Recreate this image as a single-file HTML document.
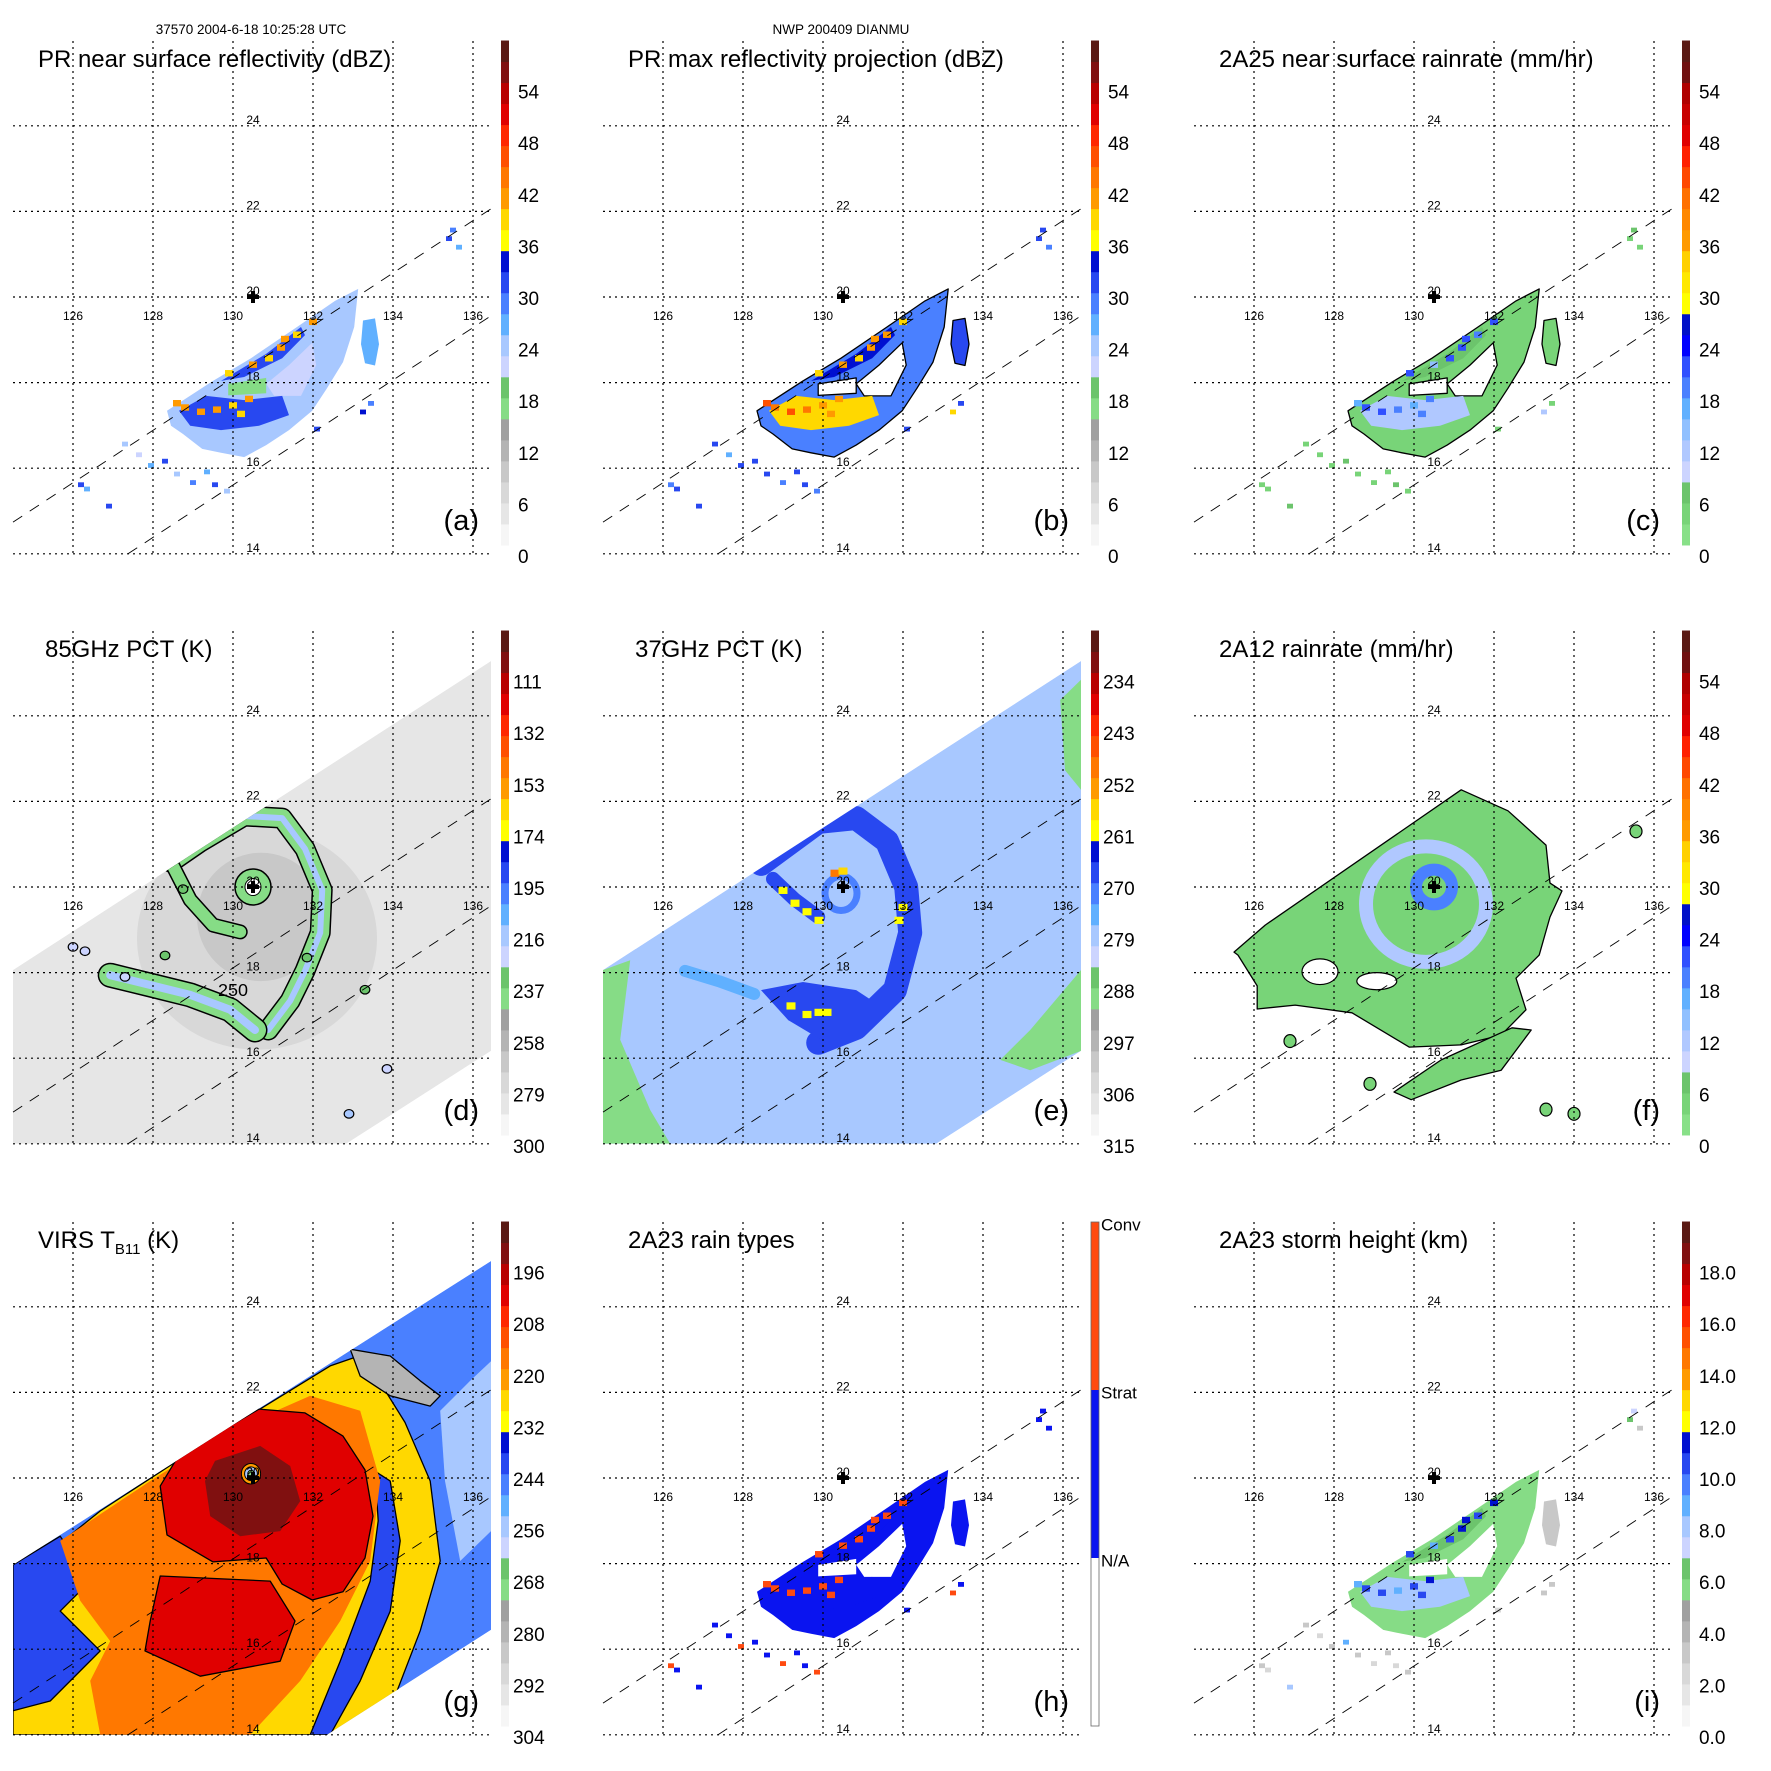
<!DOCTYPE html>
<html><head><meta charset="utf-8"><style>
html,body{margin:0;padding:0;background:#fff;}
#root{position:relative;width:1771px;height:1771px;overflow:hidden;background:#fff;font-family:"Liberation Sans",sans-serif;}
svg{position:absolute;overflow:hidden;}
text{font-family:"Liberation Sans",sans-serif;}
</style></head>
<body>
<div id="root"></div>
<script>
// ---------- shared data ----------
const lonTicks=[126,128,130,132,134,136];
const latTicks=[14,16,18,20,22,24];
const stormLon=130.5, stormLat=20.0;
const prEdge1Lon=[124.5,136.45], prEdge1Lat=[14.74,22.06];
const prEdge2Lon=[127.375,136.45], prEdge2Lat=[14.0,19.56];
const panelKeys=['a','b','c','d','e','f','g','h','i'];
const panelTitles=['PR near surface reflectivity (dBZ)','PR max reflectivity projection (dBZ)','2A25 near surface rainrate (mm/hr)','85GHz PCT (K)','37GHz PCT (K)','2A12 rainrate (mm/hr)','VIRS T','2A23 rain types','2A23 storm height (km)'];
const headerA='37570 2004-6-18 10:25:28 UTC';
const headerB='NWP 200409 DIANMU';
const ticksDbz=['0','6','12','18','24','30','36','42','48','54'];
const ticksD=['300','279','258','237','216','195','174','153','132','111'];
const ticksE=['315','306','297','288','279','270','261','252','243','234'];
const ticksG=['304','292','280','268','256','244','232','220','208','196'];
const ticksI=['0.0','2.0','4.0','6.0','8.0','10.0','12.0','14.0','16.0','18.0'];
const typeLabels=['N/A','Strat','Conv'];
const stdColors=['#f6f6f6','#e6e6e6','#d8d8d8','#c8c8c8','#b4b4b4','#a0a0a0','#86dc86','#6cc46c','#ccd4ff','#a8c8ff','#60b0ff','#4a80ff','#2848f0','#0010d0','#ffff00','#ffd800','#ff9a00','#ff7800','#ff5000','#ff2800','#e00000','#b80000','#801010','#5a1a14'];
const rainColors=['#88e088','#78d478','#6cc46c','#ccd4ff','#b0c8ff','#90c0ff','#60b0ff','#4a80ff','#3050ff','#0000ff','#0010c8','#ffff00','#ffe800','#ffd000','#ff9a00','#ff8800','#ff7000','#ff4800','#ff2000','#e00000','#c80000','#b00000','#701010','#5a1a14'];
const typeColors=['#ffffff','#0a14f0','#ff4a10'];

// ---------- PR swath regions (a,b,c,h,i) ----------
const prOuterLon=[128.35,129.5,130.45,131.6,132.55,133.13,133.03,132.75,132.35,131.98,131.4,130.83,130.28,129.7,129.23,128.75,128.45];
const prOuterLat=[17.34,18.04,18.57,19.3,19.91,20.19,19.3,18.48,17.87,17.34,16.89,16.54,16.26,16.36,16.45,16.8,16.99];
const prGapLon=[129.88,130.83,130.83,129.88];
const prGapLat=[17.97,18.11,17.75,17.7];
const prHoleLon=[130.83,131.4,131.98,132.08,131.7,131.03];
const prHoleLat=[17.97,18.41,18.93,18.41,17.69,17.69];
const prLowerLon=[128.65,129.33,130.28,131.23,131.4,130.65,129.7,128.93];
const prLowerLat=[17.34,17.69,17.59,17.69,17.24,16.99,16.89,16.99];
const prUpperLon=[129.7,130.83,131.7,131.8,131.23,130.28];
const prUpperLat=[18.04,18.67,19.3,19.11,18.57,18.13];
const prEastLon=[133.25,133.55,133.65,133.55,133.3,133.2];
const prEastLat=[19.45,19.5,18.9,18.4,18.45,18.9];
// order: outer, gap, hole, lower, upper, east
const aRegionVals=[23,17,20,31,30,27];
const bRegionVals=[28,null,null,39,33,30];
const cRegionVals=[4,null,null,10,6,4];
const hRegionVals=[1,null,null,1,1,1];
const iRegionVals=[5.5,null,null,7.5,6,3.3];
const speckLon=[126.2,126.35,126.9,127.3,127.65,127.95,128.3,128.6,129.0,129.35,129.55,129.85,135.4,135.5,135.65,133.25,133.45,132.1];
const speckLat=[15.6,15.5,15.1,16.55,16.3,16.05,16.15,15.85,15.65,15.9,15.6,15.45,21.35,21.55,21.15,17.3,17.5,16.9];
const aSpeckVals=[30,26,30,24,22,26,31,24,29,26,31,24,31,29,26,33,29,30];
const bSpeckVals=[28,30,30,30,26,30,31,30,29,30,31,28,31,30,29,38,30,30];
const cSpeckVals=[4,4,5,4,4,4,5,4,4,4,5,4,4,5,4,10,4,4];
const hSpeckVals=[2,1,1,1,1,2,1,1,2,1,1,2,1,1,1,2,1,1];
const iSpeckVals=[3,2,8,3,2,3,9,3,2,3,2,3,6,7,3,3,3,2];
const spotLon=[128.8,129.2,129.6,130.0,130.4,129.9,130.5,131.2,131.6,132.0,128.6,130.2,130.9,131.3];
const spotLat=[17.4,17.3,17.35,17.45,17.6,18.2,18.4,18.8,19.1,19.4,17.5,17.25,18.55,19.0];
const aSpotVals=[40,41,40,39,40,38,40,41,39,40,42,38,39,40];
const bSpotVals=[44,45,43,42,40,38,40,42,40,38,45,42,38,40];
const cSpotVals=[20,22,18,15,18,20,14,22,18,20,15,18,20,22];
const hSpotVals=[2,2,2,2,2,2,2,2,2,2,2,2,2,2];
const iSpotVals=[10,10,9,10,11,10,9,11,10,11,9,10,10,11];

// ---------- TMI swath (d,e) ----------
const tmiSwathLon=[124.5,136.45,136.45,132.83,124.5];
const tmiSwathLat=[18.06,25.28,16.17,14.0,14.0];
const dBaseVal=290;
const dEllLon=[130.6,130.7], dEllLat=[18.8,19.3], dEllRx=[3.0,1.6], dEllRy=[2.6,1.5], dEllVal=[275,266];
const dBand1Lon=[128.45,129.18,130.28,131.23,131.8,132.23,132.18,131.8,131.43,130.88];
const dBand1Lat=[20.58,21.05,21.66,21.61,20.89,19.93,18.93,18.04,17.34,16.66];
const dBand2Lon=[128.45,128.93,129.5,130.18];
const dBand2Lat=[20.58,19.7,19.11,18.95];
const dBand3Lon=[126.93,127.93,128.93,129.93,130.55];
const dBand3Lat=[17.94,17.71,17.48,17.13,16.66];
const dBandVal=240, dCoreVal=215;
const dBlobLon=[126.0,126.3,127.3,128.3,132.9,128.75,131.85,133.85,133.3];
const dBlobLat=[18.6,18.5,17.9,18.4,14.7,19.95,18.35,15.75,17.6];
const dBlobVal=[225,222,230,235,220,238,236,230,238];
const dLabelLon=[130.0], dLabelLat=[17.45], dLabelText=['250'];

const eBaseVal=281;
const eGreen1Lon=[124.5,125.18,124.93,125.68,126.18,124.5];
const eGreen1Lat=[18.06,18.29,16.43,14.79,14.0,14.0];
const eGreen2Lon=[136.45,136.45,135.18,134.43,135.18];
const eGreen2Lat=[18.06,16.17,15.72,15.96,16.66];
const eGreen3Lon=[135.93,136.45,136.45,136.05];
const eGreen3Lat=[24.37,24.84,22.27,22.73];
const eGreenVal=289;
const eBandLon=[128.45,129.88,130.83,131.6,132.08,132.18,131.8,130.83,129.88];
const eBandLat=[20.54,21.52,21.61,21.07,20.0,18.93,17.59,16.71,16.36];
const eBandVal=269;
const eArmLon=[128.75,129.3,129.88], eArmLat=[20.19,19.7,19.3], eArmVal=270;
const eArm2Lon=[126.55,127.4,128.28], eArm2Lat=[18.04,17.8,17.5], eArm2Val=274;
const eBlobLon=[128.45,129.5,130.83,131.4,131.03,130.08,129.13];
const eBlobLat=[17.59,17.78,17.59,17.24,16.61,16.36,16.89];
const eBlobVal=267;
const eRingLon=130.45, eRingLat=19.85, eRingR=0.4, eRingVal=272;
const eSpotLon=[129.0,129.3,129.6,129.9,132.0,131.9,129.2,129.6,129.9,130.1,130.3,130.5];
const eSpotLat=[19.9,19.6,19.4,19.2,19.5,19.2,17.2,17.0,17.05,17.05,20.3,20.35];
const eSpotVal=[261,261,261,261,261,261,261,261,261,261,250,258];

// ---------- 2A12 (f) ----------
const fMainLon=[125.5,126.28,131.18,132.35,133.3,133.4,133.7,133.4,133.13,132.55,132.8,132.18,131.18,129.88,128.45,127.03,126.08,126.08,125.6];
const fMainLat=[18.48,19.11,22.27,21.78,20.98,20.09,19.91,19.3,18.41,17.87,17.13,16.54,16.31,16.26,17.06,17.24,17.15,17.69,18.41];
const fCresLon=[129.5,130.68,132.45,132.93,132.18,131.18,129.93];
const fCresLat=[15.21,15.96,16.71,16.66,15.72,15.49,15.03];
const fMainVal=3, fCresVal=3;
const fHoleLon=[127.65,129.07], fHoleLat=[18.02,17.8], fHoleRx=[0.45,0.5], fHoleRy=[0.3,0.2];
const fRingLon=[130.5,130.3], fRingLat=[20.0,19.6], fRingR=[0.45,1.5], fRingVal=[18,10];
const fBlobLon=[135.55,133.3,126.9,128.9,134.0], fBlobLat=[21.3,14.8,16.4,15.4,14.7], fBlobVal=[3,3,3,3,3];

// ---------- VIRS (g) ----------
const gSwathLon=[124.5,136.45,136.45,132.35,124.5];
const gSwathLat=[17.97,25.07,16.45,14.0,14.0];
const gBaseVal=246;
const gYellowLon=[124.5,126.68,129.18,132.43,133.3,133.7,134.3,134.93,135.18,134.68,133.68,124.5];
const gYellowLat=[17.59,19.23,20.75,22.62,22.9,22.2,21.3,19.93,18.06,16.43,14.0,14.0];
const gYellowVal=229;
const gBlueSwLon=[124.5,125.68,126.43,125.68,126.68,125.43,124.5];
const gBlueSwLat=[17.97,18.64,17.59,16.89,15.96,14.79,14.56];
const gBlueEwLon=[133.55,133.93,134.18,133.93,133.18,132.43,131.93,132.68,133.43,133.63];
const gBlueEwLat=[20.16,19.93,18.53,16.89,15.26,14.0,14.0,15.72,17.59,19.0];
const gBlueVal=242;
const gOrangeLon=[125.68,127.93,129.93,131.93,133.18,133.68,133.43,132.68,131.68,130.43,126.68,126.43,126.93,126.18];
const gOrangeLat=[18.53,19.93,21.1,21.92,21.57,19.93,18.06,16.66,15.26,14.0,14.0,15.26,16.19,17.13];
const gOrangeVal=218;
const gRedLon=[128.65,129.33,130.65,131.8,132.75,133.3,133.5,133.3,132.75,131.98,131.23,130.83,129.5,128.35,128.18];
const gRedLat=[20.54,20.89,21.61,21.52,20.98,20.19,19.11,18.13,17.34,17.15,17.52,18.13,18.04,18.67,19.81];
const gRed2Lon=[128.18,130.93,131.55,131.18,129.18,127.8,127.93];
const gRed2Lat=[17.71,17.59,16.66,15.72,15.37,15.96,16.66];
const gRedVal=204;
const gDarkLon=[129.55,130.68,131.43,131.68,131.18,130.18,129.43,129.3];
const gDarkLat=[20.4,20.75,20.28,19.46,18.76,18.64,19.11,19.93];
const gDarkVal=192;
const gGrayLon=[132.93,133.93,134.68,135.18,134.93,133.93,133.18];
const gGrayLat=[23.01,22.85,22.27,21.92,21.68,21.92,22.38];
const gGrayVal=282;
const gLightLon=[135.18,135.93,136.45,136.45,135.68,135.3];
const gLightLat=[21.57,22.27,22.73,18.76,18.06,19.93];
const gLightVal=258;
const gEyeR=[0.24,0.16,0.08], gEyeVal=[222,256,270];

// ---------- helpers ----------
const NS='http://www.w3.org/2000/svg';
const P=590.33;
function lonX(l){return 73+(l-126)*40;}
function latY(p){return 297-(p-20)*42.8;}
function pts(lons,lats){return lons.map((l,i)=>lonX(l).toFixed(1)+','+latY(lats[i]).toFixed(1)).join(' ');}
function mk(tag,parent){const e=document.createElementNS(NS,tag);parent.appendChild(e);return e;}
function colorFor(map,u){let k=Math.floor(u/2.5);if(k<0)k=0;if(k>23)k=23;return map[k];}
const uConv={a:v=>v,b:v=>v,c:v=>v,f:v=>v,d:v=>(300-v)/3.5,e:v=>(315-v)/1.5,g:v=>(304-v)/2,i:v=>v*3};
function col(key,v){if(key==='h')return typeColors[v];const map=(key==='c'||key==='f')?rainColors:stdColors;return colorFor(map,uConv[key](v));}

function poly(g,lons,lats,fill,stroke,name){
  const p=mk('polygon',g);
  p.setAttribute('points',pts(lons,lats));
  p.setAttribute('fill',fill);
  if(stroke){p.setAttribute('stroke',stroke);p.setAttribute('stroke-width','1.3');p.setAttribute('stroke-linejoin','round');}
  
  
  return p;
}
function band(g,lons,lats,color,w,outline,name){
  if(outline){
    const o=mk('polyline',g);
    o.setAttribute('points',pts(lons,lats));
    o.setAttribute('fill','none');o.setAttribute('stroke','#000');o.setAttribute('stroke-width',w+3);
    o.setAttribute('stroke-linejoin','round');o.setAttribute('stroke-linecap','round');
    
    
  }
  const l=mk('polyline',g);
  l.setAttribute('points',pts(lons,lats));
  l.setAttribute('fill','none');l.setAttribute('stroke',color);l.setAttribute('stroke-width',w);
  l.setAttribute('stroke-linejoin','round');l.setAttribute('stroke-linecap','round');
  
  
}
function ell(g,lon,lat,rx,ry,fill,stroke,sw,name){
  const e=mk('ellipse',g);
  e.setAttribute('cx',lonX(lon));e.setAttribute('cy',latY(lat));
  e.setAttribute('rx',rx*40);e.setAttribute('ry',ry*42.8);
  e.setAttribute('fill',fill);
  if(stroke){e.setAttribute('stroke',stroke);e.setAttribute('stroke-width',sw);}
  
  
}
function dots(g,lons,lats,vals,key,size,name){
  lons.forEach((l,i)=>{
    const r=mk('rect',g);
    r.setAttribute('x',lonX(l)-size/2);r.setAttribute('y',latY(lats[i])-size/2);
    r.setAttribute('width',size);r.setAttribute('height',size*0.8);
    r.setAttribute('fill',col(key,vals[i]));
    
    
  });
}

const root=document.getElementById('root');
const panels={};
panelKeys.forEach((k,i)=>{
  const svg=document.createElementNS(NS,'svg');
  root.appendChild(svg);
  svg.setAttribute('width',P);svg.setAttribute('height',P);
  svg.setAttribute('viewBox','0 0 '+P+' '+P);
  svg.style.left=((i%3)*P)+'px';svg.style.top=(Math.floor(i/3)*P)+'px';
  
  
  const defs=mk('defs',svg);
  const cp=mk('clipPath',defs);cp.setAttribute('id','frame-'+k);
  const cr=mk('rect',cp);cr.setAttribute('x',13);cr.setAttribute('y',41);cr.setAttribute('width',478);cr.setAttribute('height',513);
  const field=mk('g',svg);field.setAttribute('clip-path','url(#frame-'+k+')');
  
  
  const over=mk('g',svg);
  panels[k]={svg,field,over,defs};
});

function swathClip(k,lons,lats){
  const cp=mk('clipPath',panels[k].defs);cp.setAttribute('id','swath-'+k);
  const p=mk('polygon',cp);p.setAttribute('points',pts(lons,lats));
  const g=mk('g',panels[k].field);g.setAttribute('clip-path','url(#swath-'+k+')');
  
  
  return g;
}

// ---------- PR-based panels ----------
function prPanel(k,vals,speckVals,spotVals,outline){
  const g=panels[k].field;
  const s=outline?'#000':null;
  const regs=[[prOuterLon,prOuterLat],[prGapLon,prGapLat],[prHoleLon,prHoleLat],[prLowerLon,prLowerLat],[prUpperLon,prUpperLat],[prEastLon,prEastLat]];
  const names=['rain-region','band-gap','rain-hole','lower-rainband','upper-rainband','east-rainband'];
  regs.forEach((r,i)=>{
    const v=vals[i];
    const fill=(v===null)?'#ffffff':col(k,v);
    poly(g,r[0],r[1],fill,(i===0||i===2||i===5||(i===1&&v===null))?s:null,names[i]);
  });
  dots(g,speckLon,speckLat,speckVals,k,6,'rain-speck');
  dots(g,spotLon,spotLat,spotVals,k,8,'intense-spot');
}
prPanel('a',aRegionVals,aSpeckVals,aSpotVals,false);
prPanel('b',bRegionVals,bSpeckVals,bSpotVals,true);
prPanel('c',cRegionVals,cSpeckVals,cSpotVals,true);
prPanel('h',hRegionVals,hSpeckVals,hSpotVals,false);
prPanel('i',iRegionVals,iSpeckVals,iSpotVals,false);

// ---------- d ----------
(function(){
  const g=swathClip('d',tmiSwathLon,tmiSwathLat);
  poly(g,tmiSwathLon,tmiSwathLat,col('d',dBaseVal),null,'swath-background');
  dEllLon.forEach((l,i)=>ell(g,l,dEllLat[i],dEllRx[i],dEllRy[i],col('d',dEllVal[i]),null,0,'cold-ring'));
  band(g,dBand1Lon,dBand1Lat,col('d',dBandVal),18,true,'outer-spiral-band');
  band(g,dBand1Lon,dBand1Lat,col('d',dCoreVal),6,false,'outer-spiral-core');
  band(g,dBand2Lon,dBand2Lat,col('d',dBandVal),12,true,'inner-spiral-band');
  band(g,dBand3Lon,dBand3Lat,col('d',dBandVal),22,true,'southern-band');
  band(g,dBand3Lon,dBand3Lat,col('d',dCoreVal),8,false,'southern-band-core');
  ell(g,stormLon,stormLat,0.45,0.42,col('d',dBandVal),'#000',1.5,'eyewall');
  ell(g,stormLon,stormLat,0.2,0.2,'#ffffff','#000',1,'eye');
  dBlobLon.forEach((l,i)=>ell(g,l,dBlobLat[i],0.12,0.1,col('d',dBlobVal[i]),'#000',1.2,'cold-cell'));
  dLabelLon.forEach((l,i)=>{const t=mk('text',g);t.setAttribute('x',lonX(l));t.setAttribute('y',latY(dLabelLat[i]));t.setAttribute('font-size','18');t.setAttribute('text-anchor','middle');t.textContent=dLabelText[i];
    
    });
})();

// ---------- e ----------
(function(){
  const g=swathClip('e',tmiSwathLon,tmiSwathLat);
  poly(g,tmiSwathLon,tmiSwathLat,col('e',eBaseVal),null,'swath-background');
  poly(g,eGreen1Lon,eGreen1Lat,col('e',eGreenVal),null,'land-ocean-edge');
  poly(g,eGreen2Lon,eGreen2Lat,col('e',eGreenVal),null,'land-ocean-edge');
  poly(g,eGreen3Lon,eGreen3Lat,col('e',eGreenVal),null,'land-ocean-edge');
  band(g,eArm2Lon,eArm2Lat,col('e',eArm2Val),12,false,'outer-arm');
  band(g,eBandLon,eBandLat,col('e',eBandVal),24,false,'spiral-band');
  band(g,eArmLon,eArmLat,col('e',eArmVal),14,false,'inner-arm');
  poly(g,eBlobLon,eBlobLat,col('e',eBlobVal),null,'southern-band');
  ell(g,eRingLon,eRingLat,eRingR,eRingR,'none',col('e',eRingVal),7,'eyewall');
  dots(g,eSpotLon,eSpotLat,eSpotVal,'e',9,'scattering-spot');
})();

// ---------- f ----------
(function(){
  const g=panels.f.field;
  poly(g,fMainLon,fMainLat,col('f',fMainVal),'#000','rain-area');
  poly(g,fCresLon,fCresLat,col('f',fCresVal),'#000','southern-rainband');
  fRingLon.forEach((l,i)=>ell(g,l,fRingLat[i],fRingR[i],fRingR[i]*0.9,'none',col('f',fRingVal[i]),i===0?12:14,'rain-ring'));
  fHoleLon.forEach((l,i)=>ell(g,l,fHoleLat[i],fHoleRx[i],fHoleRy[i],'#ffffff','#000',1.2,'no-rain-hole'));
  fBlobLon.forEach((l,i)=>ell(g,l,fBlobLat[i],0.15,0.15,col('f',fBlobVal[i]),'#000',1.2,'rain-cell'));
})();

// ---------- g ----------
(function(){
  const g=swathClip('g',gSwathLon,gSwathLat);
  poly(g,gSwathLon,gSwathLat,col('g',gBaseVal),null,'swath-background');
  poly(g,gLightLon,gLightLat,col('g',gLightVal),null,'warm-cloud');
  poly(g,gYellowLon,gYellowLat,col('g',gYellowVal),'#000','cirrus-shield');
  poly(g,gBlueSwLon,gBlueSwLat,col('g',gBlueVal),'#000','outer-cloud-sw');
  poly(g,gBlueEwLon,gBlueEwLat,col('g',gBlueVal),'#000','outer-cloud-east');
  poly(g,gOrangeLon,gOrangeLat,col('g',gOrangeVal),null,'cold-cloud');
  poly(g,gRedLon,gRedLat,col('g',gRedVal),'#000','central-dense-overcast');
  poly(g,gRed2Lon,gRed2Lat,col('g',gRedVal),'#000','southern-cold-band');
  poly(g,gDarkLon,gDarkLat,col('g',gDarkVal),null,'coldest-tops');
  poly(g,gGrayLon,gGrayLat,col('g',gGrayVal),'#000','clear-patch');
  gEyeR.forEach((r,i)=>ell(g,stormLon-0.05,stormLat+0.1,r,r,col('g',gEyeVal[i]),'#000',1,'eye'));
})();

// ---------- overlays ----------
panelKeys.forEach((k,i)=>{
  const o=panels[k].over;
  [[prEdge1Lon,prEdge1Lat],[prEdge2Lon,prEdge2Lat]].forEach(e=>{
    const l=mk('polyline',o);l.setAttribute('points',pts(e[0],e[1]));
    l.setAttribute('fill','none');l.setAttribute('stroke','#000');l.setAttribute('stroke-width','0.9');l.setAttribute('stroke-dasharray','11,9');
    
    
  });
  lonTicks.forEach(t=>{
    const l=mk('line',o);l.setAttribute('x1',lonX(t));l.setAttribute('x2',lonX(t));l.setAttribute('y1',41);l.setAttribute('y2',554);
    l.setAttribute('stroke','#000');l.setAttribute('stroke-width','1.2');l.setAttribute('stroke-dasharray','2,4');
    
    
    const tx=mk('text',o);tx.setAttribute('x',lonX(t));tx.setAttribute('y',320);tx.setAttribute('font-size','12');tx.setAttribute('text-anchor','middle');tx.textContent=t;
    
    
  });
  latTicks.forEach(t=>{
    const l=mk('line',o);l.setAttribute('x1',13);l.setAttribute('x2',491);l.setAttribute('y1',latY(t));l.setAttribute('y2',latY(t));
    l.setAttribute('stroke','#000');l.setAttribute('stroke-width','1.2');l.setAttribute('stroke-dasharray','2,4');
    
    
    const tx=mk('text',o);tx.setAttribute('x',253);tx.setAttribute('y',latY(t)-2);tx.setAttribute('font-size','12');tx.setAttribute('text-anchor','middle');tx.textContent=t;
    
    
  });
  const cx=lonX(stormLon), cy=latY(stormLat);
  const c=mk('path',o);c.setAttribute('d','M'+(cx-6)+' '+cy+'H'+(cx+6)+'M'+cx+' '+(cy-6)+'V'+(cy+6));
  c.setAttribute('stroke','#000');c.setAttribute('stroke-width','4');
  
  
  const tt=mk('text',o);tt.setAttribute('x',(k==='d'||k==='e')?45:38);tt.setAttribute('y',67);tt.setAttribute('font-size','24');
  
  
  if(k==='g'){
    tt.textContent='VIRS T';
    const sb=mk('tspan',tt);sb.setAttribute('font-size','15');sb.setAttribute('dy','6');sb.textContent='B11';
    const rs=mk('tspan',tt);rs.setAttribute('dy','-6');rs.textContent=' (K)';
  } else tt.textContent=panelTitles[i];
  const pl=mk('text',o);pl.setAttribute('x',479);pl.setAttribute('y',530);pl.setAttribute('font-size','29');pl.setAttribute('text-anchor','end');pl.textContent='('+k+')';
  
  
  if(k==='h'){
    typeColors.forEach((c2,j)=>{
      const r=mk('rect',o);r.setAttribute('x',501);r.setAttribute('width',8);
      r.setAttribute('y',545-(j+1)*168);r.setAttribute('height',168);r.setAttribute('fill',c2);
      
      
      const tx=mk('text',o);tx.setAttribute('x',511);tx.setAttribute('y',545-j*168-164);tx.setAttribute('font-size','17');
      tx.setAttribute('dominant-baseline','middle');tx.textContent=typeLabels[j];
      
      
    });
    const fr=mk('rect',o);fr.setAttribute('x',501);fr.setAttribute('y',41);fr.setAttribute('width',8);fr.setAttribute('height',504);
    fr.setAttribute('fill','none');fr.setAttribute('stroke','#666');fr.setAttribute('stroke-width','0.8');
    
    
  } else {
    const map=(k==='c'||k==='f')?rainColors:stdColors;
    map.forEach((c2,j)=>{
      const r=mk('rect',o);r.setAttribute('x',501);r.setAttribute('width',8);
      r.setAttribute('y',545-(j+1)*21.02);r.setAttribute('height',21.5);r.setAttribute('fill',c2);
      
      
    });
    const labs=k==='d'?ticksD:k==='e'?ticksE:k==='g'?ticksG:k==='i'?ticksI:ticksDbz;
    labs.forEach((s,j)=>{
      const tx=mk('text',o);tx.setAttribute('x',(s.length>=3&&k!=='i')?513:518);tx.setAttribute('y',556.5-8.6*j*6+6.5);
      tx.setAttribute('font-size','19');tx.textContent=s;
      if(k==='i'){tx.setAttribute('x',518);}
      
      
    });
  }
});
[['a',headerA],['b',headerB]].forEach(h=>{
  const t=mk('text',panels[h[0]].over);t.setAttribute('x',251);t.setAttribute('y',34);t.setAttribute('font-size','13.5');t.setAttribute('text-anchor','middle');t.textContent=h[1];
  
  
});
</script>
</body></html>
